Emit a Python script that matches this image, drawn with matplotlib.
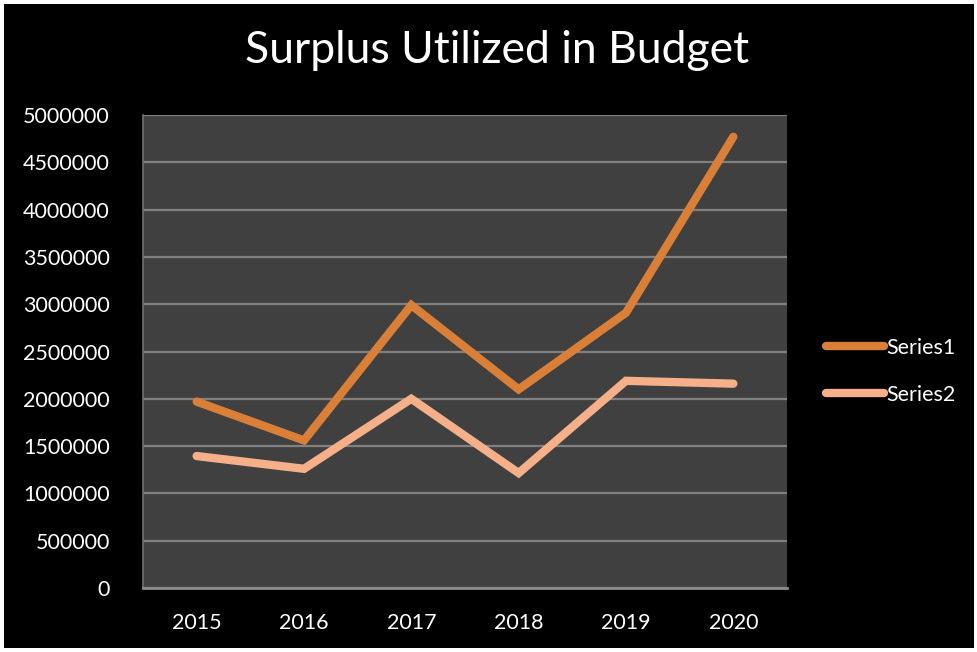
import matplotlib.pyplot as plt
from matplotlib.patches import Rectangle

years = ["2015", "2016", "2017", "2018", "2019", "2020"]
series1 = [1970000, 1560000, 2990000, 2100000, 2910000, 4770000]
series2 = [1395000, 1260000, 2000000, 1215000, 2190000, 2160000]
yticks = list(range(0, 5000001, 500000))

plt.rcParams['font.family'] = ['Lato', 'DejaVu Sans']

fig = plt.figure(figsize=(9.78, 6.52), dpi=100, facecolor='white')
# black chart area with a thin white edge
fig.patches.append(Rectangle((4 / 978, 4 / 652), 970 / 978, 644 / 652,
                             transform=fig.transFigure, facecolor='black',
                             edgecolor='none', zorder=-10))

ax = fig.add_axes([143 / 978, 64 / 652, 644 / 978, 473 / 652])
ax.set_facecolor('#404040')

x = range(len(years))
ax.plot(x, series1, color='#D97F37', lw=6, solid_capstyle='round',
        solid_joinstyle='miter', label='Series1', zorder=3)
ax.plot(x, series2, color='#F5B08A', lw=6, solid_capstyle='round',
        solid_joinstyle='miter', label='Series2', zorder=3)

ax.set_xlim(-0.5, 5.5)
ax.set_ylim(0, 5000000)
ax.set_xticks(list(x))
ax.set_xticklabels(years)
ax.set_yticks(yticks)
ax.set_yticklabels([str(v) for v in yticks])
ax.tick_params(colors='white', labelsize=15.5, length=0)
ax.tick_params(axis='y', pad=24)
ax.tick_params(axis='x', pad=18)
ax.grid(axis='y', color='#808080', lw=1.6, zorder=1)
ax.set_axisbelow(True)
for s in ['top', 'right']:
    ax.spines[s].set_visible(False)
ax.spines['left'].set_color('#707070')
ax.spines['left'].set_linewidth(1.2)
ax.spines['bottom'].set_color('#8c8c8c')
ax.spines['bottom'].set_linewidth(2)

fig.text(0.508, 0.922, "Surplus Utilized in Budget", color='white',
         fontsize=32, ha='center', va='center')

leg = ax.legend(loc='center left', bbox_to_anchor=(1.03, 0.458), frameon=False,
                fontsize=15.5, labelcolor='white', handlelength=2.7,
                handletextpad=0.1, labelspacing=1.25)

fig.savefig('out.png', dpi=100, facecolor=fig.get_facecolor())
